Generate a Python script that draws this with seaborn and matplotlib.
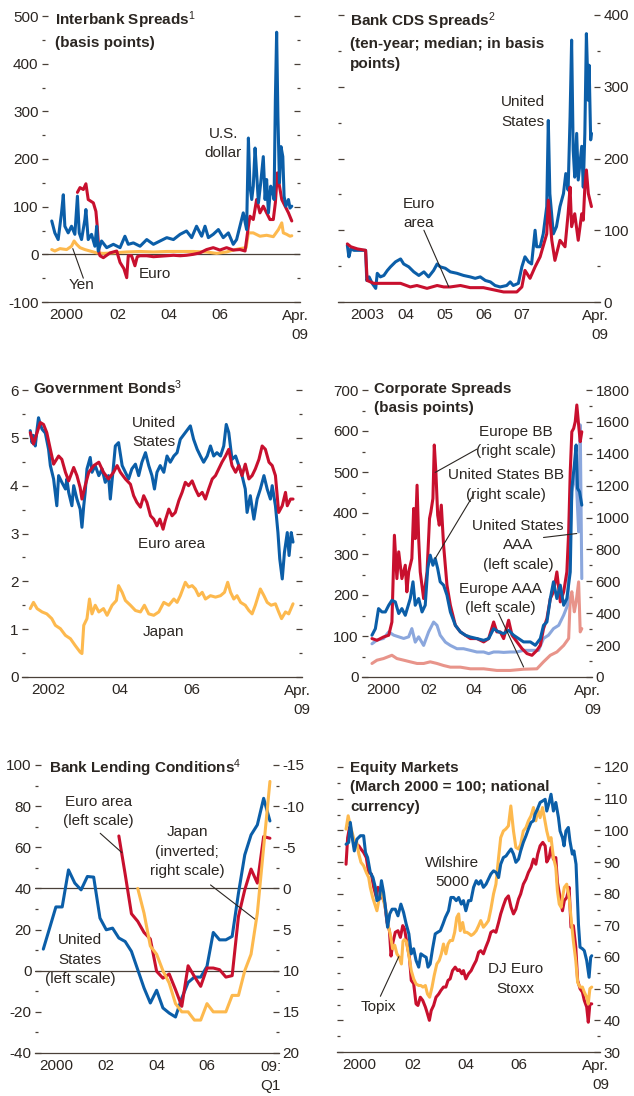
import numpy as np
import pandas as pd
import matplotlib
matplotlib.use("Agg")
import matplotlib.pyplot as plt
from matplotlib.ticker import MultipleLocator, FixedLocator, FixedFormatter, NullFormatter
import seaborn as sns

# ---------------- data ----------------
# Interbank spreads (basis points)
ib_us_x = [1999.94, 2000.06, 2000.19, 2000.32, 2000.39, 2000.45, 2000.58, 2000.71, 2000.84, 2000.94,
           2001.01, 2001.10, 2001.23, 2001.27, 2001.36, 2001.49, 2001.62, 2001.69, 2001.75, 2001.88,
           2002.08, 2002.34, 2002.60, 2002.79, 2002.92, 2003.12, 2003.38, 2003.64, 2003.90, 2004.16,
           2004.42, 2004.68, 2004.94, 2005.19, 2005.39, 2005.58, 2005.78, 2005.91, 2006.04, 2006.23,
           2006.43, 2006.62, 2006.82, 2007.01, 2007.14, 2007.27, 2007.40, 2007.53, 2007.60, 2007.66,
           2007.73, 2007.79, 2007.86, 2007.92, 2007.99, 2008.08, 2008.18, 2008.25, 2008.31, 2008.38,
           2008.47, 2008.55, 2008.60, 2008.65, 2008.70, 2008.75, 2008.81, 2008.87, 2008.94, 2008.99,
           2009.06, 2009.16, 2009.22, 2009.29]
ib_us_y = [70, 45, 31, 87, 125, 59, 45, 59, 42, 122,
           45, 31, 73, 94, 31, 42, 17, 59, 7, 28,
           14, 21, 14, 38, 21, 24, 17, 31, 21, 28,
           35, 31, 42, 49, 35, 59, 38, 59, 35, 42,
           52, 35, 45, 21, 31, 59, 87, 52, 244, 143,
           115, 143, 223, 171, 108, 150, 205, 115, 157, 87,
           143, 129, 115, 324, 466, 289, 150, 226, 205, 122,
           101, 115, 97, 101]
ib_eu_x = [2000.94, 2001.04, 2001.17, 2001.27, 2001.36, 2001.56, 2001.66, 2001.71, 2001.78, 2001.82,
           2001.95, 2002.21, 2002.47, 2002.60, 2002.75, 2002.86, 2002.92, 2003.05, 2003.18, 2003.27,
           2003.38, 2003.64, 2003.90, 2004.16, 2004.42, 2004.68, 2004.94, 2005.19, 2005.45, 2005.71,
           2005.97, 2006.23, 2006.49, 2006.75, 2007.01, 2007.27, 2007.47, 2007.53, 2007.60, 2007.66,
           2007.79, 2007.92, 2008.05, 2008.18, 2008.31, 2008.44, 2008.57, 2008.65, 2008.73, 2008.81,
           2008.90, 2009.03, 2009.16, 2009.29]
ib_eu_y = [130, 140, 136, 148, 115, 108, 90, 60, 3, -3,
           -7, 3, 7, -17, -30, -49, -3, -3, -24, -5,
           -3, -3, -5, -4, -3, -2, -3, -2, 0, 3,
           10, 14, 9, 14, 9, 10, 7, 31, 59, 80,
           73, 115, 87, 101, 87, 73, 73, 108, 171, 143,
           115, 101, 87, 70]
ib_yen_x = [1999.94, 2000.06, 2000.26, 2000.52, 2000.71, 2000.81, 2000.91, 2001.04, 2001.23, 2001.43,
            2001.69, 2001.95, 2002.34, 2002.86, 2003.38, 2003.90, 2004.42, 2004.94, 2005.45, 2005.97,
            2006.36, 2006.75, 2007.01, 2007.27, 2007.51, 2007.60, 2007.79, 2008.05, 2008.31, 2008.57,
            2008.77, 2008.90, 2008.96, 2009.09, 2009.22, 2009.29]
ib_yen_y = [10, 7, 12, 10, 17, 28, 21, 14, 10, 7,
            3, 2, 3, 5, 6, 5, 6, 6, 6, 5,
            2, 5, 9, 12, 14, 45, 45, 38, 40, 37,
            52, 66, 45, 42, 38, 39]

# Bank CDS spreads (ten-year, median, basis points)
cds_us_x = [2003.00, 2003.04, 2003.09, 2003.17, 2003.34, 2003.47, 2003.50, 2003.56, 2003.64, 2003.73,
            2003.77, 2003.85, 2003.94, 2004.03, 2004.11, 2004.24, 2004.37, 2004.45, 2004.58, 2004.71,
            2004.84, 2004.97, 2005.09, 2005.22, 2005.31, 2005.39, 2005.52, 2005.65, 2005.82, 2005.99,
            2006.16, 2006.29, 2006.42, 2006.55, 2006.68, 2006.80, 2006.93, 2007.10, 2007.19, 2007.27,
            2007.40, 2007.49, 2007.57, 2007.66, 2007.74, 2007.83, 2007.87, 2007.96, 2008.04, 2008.13,
            2008.17, 2008.21, 2008.30, 2008.38, 2008.47, 2008.56, 2008.62, 2008.68, 2008.73, 2008.77,
            2008.81, 2008.85, 2008.90, 2008.94, 2009.03, 2009.07, 2009.11, 2009.15, 2009.20, 2009.22,
            2009.26, 2009.28]
cds_us_y = [79, 63, 74, 72, 72, 72, 30, 35, 26, 19,
            40, 35, 37, 44, 49, 56, 60, 53, 49, 42,
            37, 42, 35, 44, 53, 49, 47, 42, 40, 37,
            35, 33, 35, 30, 28, 23, 21, 23, 28, 23,
            26, 49, 63, 56, 53, 100, 77, 77, 95, 133,
            253, 151, 95, 105, 133, 151, 179, 156, 258, 365,
            212, 174, 235, 170, 217, 160, 235, 374, 281, 330,
            226, 235]
cds_eu_x = [2003.00, 2003.09, 2003.26, 2003.47, 2003.51, 2003.68, 2003.94, 2004.37, 2004.62, 2004.79,
            2005.05, 2005.31, 2005.48, 2005.65, 2005.91, 2006.16, 2006.50, 2006.76, 2007.02, 2007.36,
            2007.49, 2007.57, 2007.70, 2007.83, 2007.96, 2008.13, 2008.17, 2008.26, 2008.34, 2008.47,
            2008.60, 2008.68, 2008.73, 2008.77, 2008.85, 2008.94, 2009.03, 2009.07, 2009.11, 2009.15,
            2009.20, 2009.28]
cds_eu_y = [81, 77, 74, 72, 30, 26, 26, 26, 21, 23,
            19, 23, 21, 21, 23, 20, 20, 17, 14, 14,
            21, 44, 33, 49, 63, 95, 142, 86, 58, 86,
            77, 123, 160, 105, 123, 86, 123, 114, 160, 184,
            151, 133]

# Government bonds (percent)
gb_us_x = [2002.00, 2002.05, 2002.09, 2002.14, 2002.19, 2002.23, 2002.28, 2002.33, 2002.42, 2002.51,
           2002.56, 2002.65, 2002.74, 2002.79, 2002.88, 2002.98, 2003.02, 2003.07, 2003.16, 2003.21,
           2003.30, 2003.39, 2003.44, 2003.49, 2003.53, 2003.58, 2003.67, 2003.72, 2003.81, 2003.91,
           2004.00, 2004.09, 2004.18, 2004.23, 2004.32, 2004.37, 2004.46, 2004.56, 2004.65, 2004.74,
           2004.83, 2004.93, 2005.02, 2005.11, 2005.21, 2005.30, 2005.39, 2005.46, 2005.53, 2005.62,
           2005.72, 2005.81, 2005.90, 2006.00, 2006.09, 2006.18, 2006.32, 2006.46, 2006.55, 2006.65,
           2006.74, 2006.83, 2006.93, 2007.02, 2007.11, 2007.20, 2007.30, 2007.39, 2007.46, 2007.53,
           2007.62, 2007.72, 2007.81, 2007.90, 2007.99, 2008.04, 2008.13, 2008.23, 2008.32, 2008.41,
           2008.51, 2008.60, 2008.69, 2008.74, 2008.83, 2008.90, 2008.95, 2009.02, 2009.08, 2009.16,
           2009.21, 2009.27, 2009.32]
gb_us_y = [5.15, 4.9, 5.05, 4.83, 5.18, 5.42, 5.28, 5.18, 5.1, 4.76,
           4.42, 4.14, 3.58, 4.21, 4.07, 3.93, 4.14, 3.86, 3.58, 4.0,
           3.72, 3.51, 3.13, 3.58, 3.86, 4.35, 4.59, 4.28, 4.42, 4.21,
           4.35, 4.07, 4.21, 3.72, 4.42, 4.83, 4.9, 4.42, 4.28, 4.14,
           4.35, 4.45, 4.21, 4.49, 4.69, 4.42, 4.21, 3.93, 4.28, 4.42,
           4.28, 4.62, 4.49, 4.62, 4.69, 4.97, 5.11, 5.25, 4.97, 4.76,
           4.62, 4.49, 4.62, 4.83, 4.62, 4.69, 4.62, 4.83, 5.28, 5.11,
           4.55, 4.62, 4.42, 4.21, 3.93, 3.44, 3.79, 3.30, 3.72, 3.93,
           4.21, 3.93, 3.72, 4.0, 3.58, 3.02, 2.47, 2.05, 2.6, 3.02,
           2.54, 3.02, 2.82]
gb_eu_x = [2002.00, 2002.09, 2002.19, 2002.28, 2002.37, 2002.46, 2002.56, 2002.65, 2002.79, 2002.88,
           2002.98, 2003.07, 2003.21, 2003.30, 2003.39, 2003.44, 2003.53, 2003.63, 2003.77, 2003.91,
           2004.04, 2004.18, 2004.32, 2004.42, 2004.51, 2004.65, 2004.79, 2004.88, 2004.97, 2005.07,
           2005.16, 2005.25, 2005.35, 2005.44, 2005.53, 2005.61, 2005.70, 2005.76, 2005.86, 2005.95,
           2006.04, 2006.14, 2006.23, 2006.32, 2006.41, 2006.51, 2006.60, 2006.69, 2006.79, 2006.88,
           2006.97, 2007.07, 2007.16, 2007.25, 2007.34, 2007.44, 2007.53, 2007.62, 2007.72, 2007.81,
           2007.90, 2007.99, 2008.09, 2008.18, 2008.27, 2008.37, 2008.46, 2008.55, 2008.65, 2008.74,
           2008.83, 2008.92, 2009.02, 2009.11, 2009.16, 2009.25, 2009.32]
gb_eu_y = [5.11, 4.87, 5.11, 5.32, 5.28, 5.11, 4.76, 4.45, 4.62, 4.55,
           4.28, 4.1, 4.38, 4.21, 3.96, 3.72, 4.0, 4.28, 4.42, 4.49,
           4.28, 4.14, 4.28, 4.42, 4.28, 4.14, 4.03, 3.79, 3.65, 3.55,
           3.79, 3.65, 3.37, 3.30, 3.16, 3.30, 3.09, 3.27, 3.51, 3.37,
           3.44, 3.69, 3.86, 4.07, 4.0, 4.1, 3.93, 3.79, 3.86, 3.72,
           3.93, 4.14, 4.21, 4.35, 4.49, 4.62, 4.76, 4.42, 4.28, 4.42,
           4.21, 4.45, 4.14, 4.21, 4.35, 4.55, 4.83, 4.76, 4.49, 4.42,
           4.21, 3.44, 3.58, 3.86, 3.58, 3.72, 3.72]
gb_jp_x = [2002.00, 2002.09, 2002.19, 2002.33, 2002.46, 2002.60, 2002.70, 2002.84, 2002.98, 2003.12,
           2003.25, 2003.39, 2003.44, 2003.49, 2003.58, 2003.65, 2003.72, 2003.81, 2003.91, 2004.04,
           2004.14, 2004.28, 2004.40, 2004.46, 2004.56, 2004.65, 2004.79, 2004.93, 2005.07, 2005.18,
           2005.30, 2005.44, 2005.58, 2005.72, 2005.86, 2006.00, 2006.09, 2006.18, 2006.32, 2006.41,
           2006.51, 2006.60, 2006.69, 2006.79, 2006.88, 2007.02, 2007.16, 2007.30, 2007.41, 2007.50,
           2007.58, 2007.67, 2007.76, 2007.86, 2007.99, 2008.09, 2008.18, 2008.27, 2008.41, 2008.51,
           2008.60, 2008.71, 2008.83, 2008.92, 2009.00, 2009.11, 2009.20, 2009.32]
gb_jp_y = [1.43, 1.56, 1.43, 1.36, 1.32, 1.22, 1.08, 1.01, 0.87, 0.80,
           0.66, 0.52, 0.49, 1.08, 1.22, 1.63, 1.32, 1.50, 1.36, 1.43,
           1.29, 1.50, 1.60, 1.91, 1.77, 1.60, 1.50, 1.39, 1.36, 1.50,
           1.32, 1.29, 1.36, 1.56, 1.50, 1.63, 1.56, 1.70, 1.98, 1.88,
           1.91, 1.84, 1.70, 1.77, 1.63, 1.70, 1.67, 1.70, 1.77, 1.98,
           1.77, 1.63, 1.70, 1.56, 1.50, 1.39, 1.32, 1.50, 1.84, 1.70,
           1.56, 1.50, 1.53, 1.36, 1.22, 1.36, 1.32, 1.53]

# Corporate spreads (basis points); BB series on the right scale
cs_eubb_x = [2000.00, 2000.22, 2000.51, 2000.74, 2000.88, 2000.99, 2001.10, 2001.18, 2001.32, 2001.47,
             2001.54, 2001.62, 2001.76, 2001.84, 2001.91, 2001.99, 2002.06, 2002.13, 2002.28, 2002.43,
             2002.54, 2002.60, 2002.69, 2002.75, 2002.82, 2002.90, 2002.97, 2003.06, 2003.16, 2003.31,
             2003.46, 2003.68, 2003.90, 2004.12, 2004.34, 2004.63, 2004.93, 2005.15, 2005.37, 2005.51,
             2005.66, 2005.81, 2006.03, 2006.18, 2006.40, 2006.62, 2006.84, 2007.06, 2007.28, 2007.43,
             2007.57, 2007.72, 2007.87, 2008.01, 2008.16, 2008.31, 2008.46, 2008.60, 2008.68, 2008.75,
             2008.82, 2008.90, 2008.97, 2009.04, 2009.12, 2009.19, 2009.26]
cs_eubb_y = [241, 230, 251, 262, 345, 889, 617, 785, 617, 701,
             534, 659, 743, 1057, 868, 1203, 868, 659, 492, 659,
             994, 1036, 1120, 1455, 1287, 1015, 952, 1078, 827, 576,
             450, 324, 283, 262, 241, 241, 220, 241, 345, 283,
             283, 241, 356, 262, 220, 178, 147, 136, 167, 199,
             303, 366, 492, 534, 659, 471, 534, 659, 910, 1287,
             1538, 1559, 1601, 1706, 1580, 1476, 1538]
cs_usbb_x = [2000.00, 2000.15, 2000.29, 2000.44, 2000.59, 2000.74, 2000.88, 2001.03, 2001.18, 2001.32,
             2001.47, 2001.69, 2001.81, 2001.91, 2002.06, 2002.21, 2002.35, 2002.46, 2002.57, 2002.69,
             2002.79, 2002.90, 2003.01, 2003.16, 2003.31, 2003.46, 2003.68, 2003.90, 2004.12, 2004.34,
             2004.63, 2004.93, 2005.15, 2005.37, 2005.59, 2005.81, 2006.03, 2006.25, 2006.47, 2006.69,
             2006.99, 2007.21, 2007.43, 2007.57, 2007.72, 2007.87, 2008.01, 2008.16, 2008.31, 2008.46,
             2008.60, 2008.75, 2008.82, 2008.93, 2009.01, 2009.07, 2009.16, 2009.26]
cs_usbb_y = [262, 303, 429, 408, 408, 450, 481, 471, 398, 429,
             387, 492, 597, 450, 492, 408, 450, 680, 764, 701,
             743, 680, 597, 576, 513, 408, 324, 283, 262, 251,
             241, 230, 241, 303, 283, 272, 293, 262, 241, 220,
             220, 199, 241, 324, 345, 492, 597, 492, 576, 450,
             492, 659, 1183, 1329, 1455, 1183, 1162, 1078]
cs_usaaa_x = [2000.00, 2000.22, 2000.51, 2000.74, 2000.96, 2001.18, 2001.40, 2001.62, 2001.76, 2001.91,
              2002.06, 2002.28, 2002.50, 2002.72, 2002.87, 2003.01, 2003.24, 2003.46, 2003.75, 2004.04,
              2004.34, 2004.63, 2004.93, 2005.15, 2005.37, 2005.59, 2005.81, 2006.10, 2006.40, 2006.69,
              2006.99, 2007.21, 2007.35, 2007.57, 2007.79, 2008.01, 2008.24, 2008.46, 2008.63, 2008.75,
              2008.82, 2008.90, 2008.97, 2009.04, 2009.12, 2009.19, 2009.26]
cs_usaaa_y = [81, 90, 94, 110, 102, 98, 94, 98, 118, 85,
              98, 77, 110, 134, 126, 102, 85, 77, 69, 69,
              65, 61, 61, 57, 61, 61, 60, 61, 61, 65,
              65, 65, 65, 94, 102, 118, 126, 151, 175, 354,
              452, 476, 500, 452, 354, 615, 240]
cs_euaaa_x = [2000.00, 2000.22, 2000.51, 2000.88, 2001.10, 2001.40, 2001.69, 2001.99, 2002.28, 2002.57,
              2002.87, 2003.16, 2003.46, 2003.90, 2004.34, 2004.93, 2005.51, 2006.10, 2006.69, 2007.28,
              2007.57, 2007.87, 2008.16, 2008.46, 2008.68, 2008.75, 2008.82, 2008.93, 2009.01, 2009.12,
              2009.19, 2009.26]
cs_euaaa_y = [33, 41, 45, 53, 45, 41, 37, 33, 33, 37,
              33, 28, 24, 24, 20, 20, 16, 16, 19, 20,
              37, 53, 61, 77, 94, 191, 208, 159, 183, 232,
              110, 118]

# Bank lending conditions (quarterly, 2000Q1 - 2009Q1)
bl_us = [10.5, 20.7, 31, 31, 49, 42.6, 39.3, 45.8, 45.5, 25.6,
         19.9, 20.7, 15.9, 14.2, 9.4, 0.5, -8.4, -15.7, -9.5, -18.1,
         -20.6, -22.5, -13.3, -5.7, -3.1, -3.1, 2.1, 18.6, 15, 15,
         16.7, 37.7, 56.3, 66, 70.9, 83.8, 72.8]
bl_euro = [65.5, 47, 27.7, 24, 18.6, 15.4, -0.3, -3.6, -1.6, -9.2,
           -17.3, 2.4, -2.8, -7.6, 1.3, 1.3, 0.5, -3.1, -2.4, 26.4,
           39.3, 49.4, 42.6, 65.2, 64.4]            # from 2003Q1
bl_japan = [0, 3, 7, 8, 10, 11.5, 14, 15, 15, 16,
            16, 14, 15, 15, 15, 13, 13, 10, 8, 3,
            -5, -13]                                 # from 2003Q4, right scale (inverted)

# Equity markets (March 2000 = 100)
eq_wil_x = [2000.00, 2000.10, 2000.16, 2000.25, 2000.31, 2000.41, 2000.54, 2000.66, 2000.73, 2000.81,
            2000.91, 2001.01, 2001.10, 2001.16, 2001.25, 2001.33, 2001.41, 2001.48, 2001.56, 2001.64,
            2001.73, 2001.85, 2001.95, 2002.06, 2002.16, 2002.26, 2002.36, 2002.45, 2002.54, 2002.63,
            2002.73, 2002.81, 2002.91, 2003.01, 2003.08, 2003.16, 2003.25, 2003.35, 2003.44, 2003.54,
            2003.64, 2003.73, 2003.85, 2003.94, 2004.04, 2004.14, 2004.23, 2004.33, 2004.41, 2004.50,
            2004.60, 2004.69, 2004.79, 2004.89, 2004.98, 2005.06, 2005.16, 2005.26, 2005.35, 2005.44,
            2005.54, 2005.64, 2005.73, 2005.81, 2005.91, 2006.01, 2006.10, 2006.20, 2006.29, 2006.38,
            2006.48, 2006.56, 2006.66, 2006.76, 2006.85, 2006.95, 2007.04, 2007.10, 2007.19, 2007.29,
            2007.39, 2007.48, 2007.54, 2007.63, 2007.70, 2007.79, 2007.88, 2007.98, 2008.04, 2008.13,
            2008.19, 2008.26, 2008.35, 2008.41, 2008.50, 2008.56, 2008.64, 2008.73, 2008.79, 2008.88,
            2008.95, 2009.04, 2009.13, 2009.19, 2009.23]
eq_wil_y = [95.6, 96.2, 102.5, 96.7, 93.5, 97.2, 98.3, 98.3, 93.0, 91.4,
            86.7, 85.1, 82.0, 77.8, 78.3, 84.1, 80.4, 75.7, 69.4, 73.6,
            75.1, 75.1, 73.0, 76.7, 74.1, 70.4, 67.3, 61.0, 62.6, 58.9,
            56.8, 61.0, 60.4, 59.9, 56.8, 57.8, 62.6, 67.3, 67.8, 68.3,
            70.4, 72.5, 74.6, 78.8, 78.8, 77.8, 78.8, 76.7, 77.8, 74.6,
            77.8, 77.8, 82.0, 84.1, 83.0, 84.1, 82.0, 83.0, 84.6, 86.2,
            87.2, 86.7, 85.1, 89.3, 91.4, 91.9, 93.0, 94.1, 92.5, 89.9,
            90.9, 93.5, 96.2, 98.3, 100.4, 102.5, 103.0, 105.1, 106.7, 108.8,
            109.3, 109.8, 106.1, 108.8, 111.4, 106.1, 108.8, 104.0, 99.8, 97.7,
            95.1, 99.8, 100.9, 96.7, 92.5, 93.5, 89.3, 70.4, 63.1, 62.6,
            62.0, 58.9, 53.6, 59.9, 60.4]
eq_dj_x = [2000.00, 2000.06, 2000.13, 2000.20, 2000.29, 2000.39, 2000.48, 2000.56, 2000.66, 2000.76,
           2000.85, 2000.95, 2001.04, 2001.14, 2001.20, 2001.29, 2001.36, 2001.45, 2001.54, 2001.63,
           2001.69, 2001.76, 2001.85, 2001.95, 2002.04, 2002.13, 2002.20, 2002.29, 2002.38, 2002.45,
           2002.54, 2002.63, 2002.70, 2002.79, 2002.88, 2002.98, 2003.04, 2003.13, 2003.20, 2003.29,
           2003.38, 2003.48, 2003.56, 2003.66, 2003.75, 2003.83, 2003.91, 2004.00, 2004.10, 2004.19,
           2004.26, 2004.35, 2004.41, 2004.50, 2004.60, 2004.70, 2004.79, 2004.89, 2004.98, 2005.06,
           2005.16, 2005.25, 2005.35, 2005.44, 2005.54, 2005.63, 2005.73, 2005.81, 2005.91, 2006.00,
           2006.10, 2006.20, 2006.29, 2006.38, 2006.48, 2006.56, 2006.66, 2006.76, 2006.85, 2006.95,
           2007.04, 2007.13, 2007.20, 2007.29, 2007.39, 2007.48, 2007.54, 2007.63, 2007.70, 2007.79,
           2007.88, 2007.94, 2008.04, 2008.13, 2008.20, 2008.29, 2008.38, 2008.45, 2008.54, 2008.63,
           2008.70, 2008.79, 2008.88, 2008.95, 2009.04, 2009.10, 2009.16, 2009.23]
eq_dj_y = [89.3, 97.7, 100.9, 99.3, 96.2, 95.6, 95.1, 94.1, 93.0, 91.4,
           86.7, 86.2, 82.0, 78.8, 82.0, 80.9, 78.8, 77.2, 70.9, 68.3,
           60.3, 64.6, 67.8, 68.3, 66.2, 69.9, 68.8, 64.1, 60.0, 52.6,
           51.6, 45.2, 44.7, 47.3, 46.3, 44.2, 42.6, 40.0, 43.1, 44.7,
           47.3, 48.3, 49.4, 50.5, 50.5, 52.6, 53.1, 55.7, 56.8, 55.7,
           56.0, 54.7, 55.7, 53.1, 54.7, 55.7, 57.3, 58.9, 61.5, 62.0,
           61.0, 63.1, 65.2, 67.8, 68.3, 67.8, 70.9, 73.6, 76.2, 78.3,
           79.3, 75.7, 73.6, 75.1, 78.3, 79.9, 83.0, 84.6, 86.7, 88.3,
           90.9, 89.3, 92.5, 95.1, 96.2, 95.1, 90.0, 91.4, 94.6, 90.9,
           91.4, 83.6, 78.8, 74.6, 77.8, 78.8, 82.0, 69.4, 69.9, 63.1,
           52.6, 50.0, 48.9, 46.3, 44.2, 39.4, 45.2, 45.2]
eq_tpx_x = [2000.00, 2000.08, 2000.16, 2000.23, 2000.31, 2000.39, 2000.48, 2000.56, 2000.66, 2000.76,
            2000.85, 2000.91, 2001.00, 2001.08, 2001.16, 2001.25, 2001.33, 2001.41, 2001.50, 2001.58,
            2001.66, 2001.75, 2001.83, 2001.91, 2002.00, 2002.08, 2002.14, 2002.19, 2002.26, 2002.35,
            2002.45, 2002.54, 2002.63, 2002.73, 2002.81, 2002.89, 2002.98, 2003.06, 2003.14, 2003.23,
            2003.31, 2003.41, 2003.50, 2003.58, 2003.66, 2003.75, 2003.83, 2003.91, 2004.00, 2004.08,
            2004.16, 2004.23, 2004.29, 2004.38, 2004.45, 2004.54, 2004.63, 2004.70, 2004.79, 2004.89,
            2004.98, 2005.06, 2005.16, 2005.26, 2005.35, 2005.44, 2005.54, 2005.63, 2005.73, 2005.81,
            2005.91, 2006.00, 2006.10, 2006.19, 2006.29, 2006.38, 2006.48, 2006.56, 2006.66, 2006.76,
            2006.85, 2006.95, 2007.04, 2007.13, 2007.20, 2007.29, 2007.38, 2007.45, 2007.54, 2007.63,
            2007.70, 2007.79, 2007.88, 2007.94, 2008.01, 2008.08, 2008.13, 2008.20, 2008.29, 2008.38,
            2008.45, 2008.54, 2008.63, 2008.70, 2008.79, 2008.88, 2008.95, 2009.04, 2009.10, 2009.16,
            2009.23]
eq_tpx_y = [100.4, 104.6, 101.4, 99.3, 96.7, 96.7, 92.5, 89.9, 88.8, 86.7,
            85.1, 82.0, 78.8, 76.7, 74.6, 78.8, 80.9, 77.8, 74.6, 69.9,
            67.3, 62.6, 63.7, 61.0, 59.9, 57.8, 65.0, 65.5, 65.0, 61.0,
            55.7, 53.1, 51.5, 51.0, 51.0, 50.5, 51.0, 48.3, 47.3, 50.5,
            54.1, 57.8, 58.9, 61.0, 64.1, 61.0, 64.1, 65.2, 65.2, 67.8,
            72.5, 73.6, 68.3, 70.9, 67.8, 67.8, 67.3, 66.8, 67.3, 68.3,
            69.9, 71.5, 69.4, 70.4, 71.5, 75.1, 79.9, 83.0, 91.4, 97.7,
            99.8, 100.4, 101.4, 107.7, 99.8, 94.6, 94.1, 95.6, 99.8, 100.9,
            103.0, 104.6, 107.2, 103.0, 106.7, 104.0, 107.2, 104.0, 99.8, 96.7,
            97.7, 91.4, 88.3, 80.9, 76.7, 75.7, 78.8, 82.0, 83.0, 78.8,
            72.5, 65.0, 58.9, 52.0, 50.5, 50.5, 48.9, 47.3, 45.2, 50.0,
            50.5]

# ---------------- style ----------------
BLUE = "#0b5ea8"
RED = "#c8102e"
YELLOW = "#fdb94e"
LBLUE = "#8ba7dd"
SALMON = "#e8948a"
TXT = "#2b2622"
AXC = "#4a4038"
LW = 2.2
FS = 11

sns.set_style("white")
plt.rcParams["font.family"] = ["Liberation Sans", "DejaVu Sans"]
plt.rcParams["mathtext.fontset"] = "custom"
plt.rcParams["mathtext.rm"] = "Liberation Sans"
plt.rcParams["mathtext.it"] = "Liberation Sans:italic"
plt.rcParams["mathtext.bf"] = "Liberation Sans:bold"
plt.rcParams["axes.unicode_minus"] = False

W, H = 634, 1096
fig = plt.figure(figsize=(W / 100, H / 100), dpi=100)


def box(x0, y0, x1, y1):
    # pixel box -> figure fraction
    return [x0 / W, 1 - y1 / H, (x1 - x0) / W, (y1 - y0) / H]


def frame(ax, xlim, ylim, first_year, labels, end_x, end_text, ymaj, ymin,
          left=True, right=True, labelleft=True, labelright=False):
    ax.set_xlim(*xlim)
    ax.set_ylim(*ylim)
    for s in ("top", "left", "right"):
        ax.spines[s].set_visible(False)
    ax.spines["bottom"].set_color(AXC)
    ax.spines["bottom"].set_linewidth(0.9)
    ax.xaxis.set_major_locator(FixedLocator(list(range(first_year, 2010))))
    ax.xaxis.set_major_formatter(NullFormatter())
    ax.xaxis.set_minor_locator(FixedLocator([p for p, _ in labels]))
    ax.xaxis.set_minor_formatter(FixedFormatter([t for _, t in labels]))
    ax.tick_params(axis="x", which="major", direction="in", length=5, width=0.9, color=AXC)
    ax.tick_params(axis="x", which="minor", length=0, pad=4, labelsize=FS, labelcolor=TXT)
    ax.annotate(end_text, xy=(end_x, 0), xycoords=("data", "axes fraction"),
                xytext=(0, -5), textcoords="offset points", ha="center", va="top",
                multialignment="right", fontsize=FS, color=TXT, linespacing=1.5)
    ax.yaxis.set_major_locator(MultipleLocator(ymaj))
    ax.yaxis.set_minor_locator(MultipleLocator(ymin))
    ax.tick_params(axis="y", which="both", direction="in", left=left, right=right,
                   labelleft=labelleft, labelright=labelright, color=AXC, width=0.9,
                   labelsize=FS, labelcolor=TXT, pad=2.5)
    ax.tick_params(axis="y", which="major", length=4.5)
    ax.tick_params(axis="y", which="minor", length=2.5)


def right_scale(ax, ylim, ymaj, ymin):
    ax.set_ylim(*ylim)
    for s in ax.spines.values():
        s.set_visible(False)
    ax.yaxis.set_major_locator(MultipleLocator(ymaj))
    ax.yaxis.set_minor_locator(MultipleLocator(ymin))
    ax.tick_params(axis="y", which="both", direction="in", left=False, right=True,
                   labelleft=False, labelright=True, color=AXC, width=0.9,
                   labelsize=FS, labelcolor=TXT, pad=2.5)
    ax.tick_params(axis="y", which="major", length=4.5)
    ax.tick_params(axis="y", which="minor", length=2.5)
    ax.set_ylabel("")


def line(ax, x, y, color):
    sns.lineplot(x=x, y=y, ax=ax, color=color, lw=LW, estimator=None, sort=False)


def label(ax, x, y, s):
    ax.text(x, y, s, ha="center", va="center", fontsize=FS, color=TXT, linespacing=1.5)


def leader(ax, start, end):
    ax.annotate("", xy=end, xytext=start,
                arrowprops=dict(arrowstyle="-", color=TXT, lw=0.8, shrinkA=0, shrinkB=0))


def title(x, y, s):
    fig.text(x / W, 1 - y / H, s, ha="left", va="top", fontsize=FS, fontweight="bold",
             color=TXT, linespacing=1.5)


yrs_even = [(2000.5, "2000"), (2002.5, "02"), (2004.5, "04"), (2006.5, "06")]

# ---- 1. Interbank spreads ----
ax1 = fig.add_axes(box(42, 16, 300, 302))
ax1.axhline(0, color=AXC, lw=0.9, zorder=1)
line(ax1, ib_yen_x, ib_yen_y, YELLOW)
line(ax1, ib_eu_x, ib_eu_y, RED)
line(ax1, ib_us_x, ib_us_y, BLUE)
frame(ax1, (1999.56, 2009.61), (-100, 500), 2000, yrs_even, 2009.42, "Apr.\n09", 100, 50)
label(ax1, 2006.62, 233, "U.S.\ndollar")
label(ax1, 2003.96, -42, "Euro")
label(ax1, 2001.10, -65, "Yen")
leader(ax1, (2001.17, -50), (2000.76, 12))
title(55, 9, "Interbank Spreads$^1$\n(basis points)")

# ---- 2. Bank CDS spreads ----
ax2 = fig.add_axes(box(338, 15, 600, 302))
line(ax2, cds_us_x, cds_us_y, BLUE)
line(ax2, cds_eu_x, cds_eu_y, RED)
frame(ax2, (2002.76, 2009.50), (0, 400), 2003,
      [(2003.5, "2003"), (2004.5, "04"), (2005.5, "05"), (2006.5, "06"), (2007.5, "07")],
      2009.38, "Apr.\n09", 100, 50, labelleft=False, labelright=True)
label(ax2, 2007.53, 265, "United\nStates")
label(ax2, 2004.84, 123, "Euro\narea")
leader(ax2, (2004.97, 100), (2005.61, 21))
title(350, 10, "Bank CDS Spreads$^2$\n(ten-year; median; in basis\npoints)")

# ---- 3. Government bonds ----
ax3 = fig.add_axes(box(22, 390, 302, 677))
line(ax3, gb_jp_x, gb_jp_y, YELLOW)
line(ax3, gb_us_x, gb_us_y, BLUE)
line(ax3, gb_eu_x, gb_eu_y, RED)
frame(ax3, (2001.77, 2009.57), (0, 6), 2002,
      [(2002.5, "2002"), (2004.5, "04"), (2006.5, "06")], 2009.43, "Apr.\n09", 1, 0.5)
label(ax3, 2005.44, 5.11, "United\nStates")
label(ax3, 2005.95, 2.78, "Euro area")
label(ax3, 2005.72, 0.94, "Japan")
title(33, 378, "Government Bonds$^3$")

# ---- 4. Corporate spreads ----
ax4 = fig.add_axes(box(362, 390, 592, 677))
line(ax4, cs_euaaa_x, cs_euaaa_y, SALMON)
line(ax4, cs_usaaa_x, cs_usaaa_y, LBLUE)
frame(ax4, (1999.56, 2009.71), (0, 700), 2000, yrs_even, 2009.52, "Apr.\n09", 100, 50,
      right=False)
ax4r = ax4.twinx()
line(ax4r, cs_eubb_x, cs_eubb_y, RED)
line(ax4r, cs_usbb_x, cs_usbb_y, BLUE)
right_scale(ax4r, (0, 1800), 200, 100)
label(ax4r, 2006.35, 1476, "Europe BB\n(right scale)")
label(ax4r, 2005.91, 1203, "United States BB\n(right scale)")
label(ax4r, 2006.44, 827, "United States\nAAA\n(left scale)")
label(ax4r, 2005.66, 491, "Europe AAA\n(left scale)")
leader(ax4r, (2004.63, 1429), (2002.79, 1283))
leader(ax4r, (2004.49, 1145), (2002.79, 743))
leader(ax4r, (2007.57, 875), (2009.04, 900))
leader(ax4r, (2005.59, 398), (2006.69, 63))
title(374, 382, "Corporate Spreads\n(basis points)")

# ---- 5. Bank lending conditions ----
quarters = pd.period_range("2000Q1", "2009Q1", freq="Q")
qx = [p.year + (p.quarter - 1) / 4 for p in quarters]
ax5 = fig.add_axes(box(35, 765, 279, 1053))
ax5.axhline(40, color=AXC, lw=0.9, zorder=1)
ax5.axhline(0, color=AXC, lw=0.9, zorder=1)
line(ax5, qx, bl_us, BLUE)
line(ax5, qx[12:], bl_euro, RED)
frame(ax5, (1999.67, 2009.36), (-40, 100), 2000, yrs_even, 2009.02, "09:\nQ1", 20, 10,
      right=False)
ax5r = ax5.twinx()
line(ax5r, qx[15:], bl_japan, YELLOW)
right_scale(ax5r, (20, -15), 5, 2.5)
label(ax5, 2002.19, 77.3, "Euro area\n(left scale)")
label(ax5, 2005.71, 57.9, "Japan\n(inverted;\nright scale)")
label(ax5, 2001.46, 5.3, "United\nStates\n(left scale)")
leader(ax5, (2002.26, 66.8), (2003.12, 57.4))
leader(ax5, (2006.64, 41.7), (2008.43, 24.8))
title(49, 757, "Bank Lending Conditions$^4$")

# ---- 6. Equity markets ----
ax6 = fig.add_axes(box(337, 767, 600, 1052))
line(ax6, eq_dj_x, eq_dj_y, RED)
line(ax6, eq_tpx_x, eq_tpx_y, YELLOW)
line(ax6, eq_wil_x, eq_wil_y, BLUE)
frame(ax6, (1999.66, 2009.54), (30, 120), 2000, yrs_even, 2009.38, "Apr.\n09", 10, 5,
      labelleft=False, labelright=True)
label(ax6, 2003.98, 86.7, "Wilshire\n5000")
label(ax6, 2006.35, 53.1, "DJ Euro\nStoxx")
label(ax6, 2001.23, 44.2, "Topix")
leader(ax6, (2001.29, 47.6), (2001.98, 60.1))
title(350, 761, "Equity Markets\n(March 2000 = 100; national\ncurrency)")

for a in (ax1, ax2, ax3, ax4, ax5, ax6):
    a.set_xlabel("")
    a.set_ylabel("")

fig.savefig("out.png", dpi=100)
